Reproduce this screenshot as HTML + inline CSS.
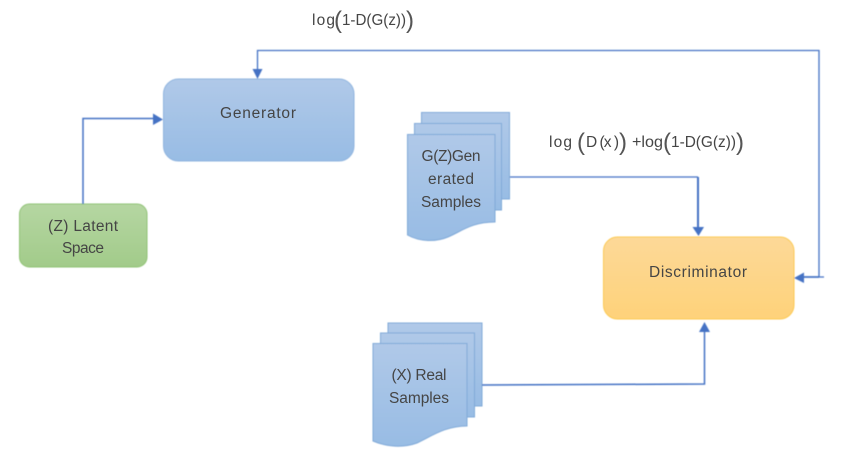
<!DOCTYPE html>
<html>
<head>
<meta charset="utf-8">
<style>
html,body{margin:0;padding:0;background:#fff;width:848px;height:453px;overflow:hidden}
svg{display:block}
text{font-family:"Liberation Sans",sans-serif;font-size:15.5px;fill:#454545;text-anchor:middle}
.l{text-anchor:start}
.b{font-size:24px;fill:#555}
</style>
</head>
<body>
<svg width="848" height="453" viewBox="0 0 848 453" xmlns="http://www.w3.org/2000/svg">
<defs>
<linearGradient id="blue" x1="0" y1="0" x2="0" y2="1"><stop offset="0" stop-color="#b0c9e8"/><stop offset="1" stop-color="#98bce4"/></linearGradient>
<linearGradient id="green" x1="0" y1="0" x2="0" y2="1"><stop offset="0" stop-color="#b5d6a2"/><stop offset="1" stop-color="#a2cb8a"/></linearGradient>
<linearGradient id="gold" x1="0" y1="0" x2="0" y2="1"><stop offset="0" stop-color="#fdd998"/><stop offset="1" stop-color="#fed27a"/></linearGradient>
<filter id="soft" x="-5%" y="-5%" width="110%" height="110%"><feGaussianBlur stdDeviation="0.4"/></filter>
</defs>
<g filter="url(#soft)">
<rect x="163.5" y="79" width="190.5" height="82" rx="15" fill="url(#blue)" stroke="#8fb4df"/>
<rect x="19.5" y="204" width="127.5" height="63" rx="10" fill="url(#green)" stroke="#8fc273"/>
<rect x="603.5" y="237" width="190.5" height="82" rx="14" fill="url(#gold)" stroke="#fcc94f"/>

<rect x="421.5" y="112.5" width="88" height="86.5" fill="url(#blue)" stroke="#7fa9d8"/>
<rect x="414.5" y="123.5" width="87" height="86.5" fill="url(#blue)" stroke="#7fa9d8"/>
<path d="M407.5 134.500H495V222C472 222 462 231 448 237C436 242 420 242 407.500 235Z" fill="url(#blue)" stroke="#7fa9d8"/>

<rect x="388" y="323" width="94" height="83" fill="url(#blue)" stroke="#7fa9d8"/>
<rect x="380.5" y="333" width="94" height="84" fill="url(#blue)" stroke="#7fa9d8"/>
<path d="M373 343.500H467V426C445 426 432 436 417 443C403 448 387 447 373 441Z" fill="url(#blue)" stroke="#7fa9d8"/>

<g fill="none" stroke="#4472c4">
<path d="M824 277H819V50.500H257.500V70" stroke-width="1.300"/>
<path d="M800 277H819" stroke-width="1.800"/>
<path d="M83 204V118.500H153" stroke-width="1.500"/>
<path d="M510 177H698" stroke-width="1.200"/>
<path d="M698 177V228" stroke-width="2"/>
<path d="M482 385L704.500 384V330" stroke-width="1.500"/>
</g>
<g fill="#4472c4">
<path d="M252.500 69H262.500L257.500 79Z"/>
<path d="M153 113.500L163 119.500L153 125Z"/>
<path d="M692.500 227H704L698.500 236Z"/>
<path d="M699 332H710L704.500 322Z"/>
<path d="M794 278L804 272.500V283Z"/>
</g>
</g>

<text x="258" y="118" textLength="76">Generator</text>
<text x="83" y="231" textLength="70">(Z) Latent</text>
<text x="83" y="253" textLength="42">Space</text>
<text x="698" y="277" textLength="98">Discriminator</text>
<text x="451" y="161" textLength="59">G(Z)Gen</text>
<text x="451" y="184" textLength="46">erated</text>
<text x="451" y="207" textLength="60">Samples</text>
<text x="419" y="380" textLength="55">(X) Real</text>
<text x="419" y="403" textLength="60">Samples</text>

<text class="l" x="312" y="25" textLength="23">log</text>
<text class="l b" x="334" y="28">(</text>
<text class="l" x="342" y="25" textLength="64" lengthAdjust="spacingAndGlyphs">1-D(G(z))</text>
<text class="l b" x="406" y="28">)</text>

<text class="l" x="549" y="147" textLength="23">log</text>
<text class="l b" x="577" y="150">(</text>
<text class="l" x="586" y="147" textLength="33">D (x )</text>
<text class="l b" x="619" y="150">)</text>
<text class="l" x="632" y="147" textLength="31" lengthAdjust="spacingAndGlyphs">+log</text>
<text class="l b" x="663" y="150">(</text>
<text class="l" x="671" y="147" textLength="65" lengthAdjust="spacingAndGlyphs">1-D(G(z))</text>
<text class="l b" x="736" y="150">)</text>
</svg>
</body>
</html>
